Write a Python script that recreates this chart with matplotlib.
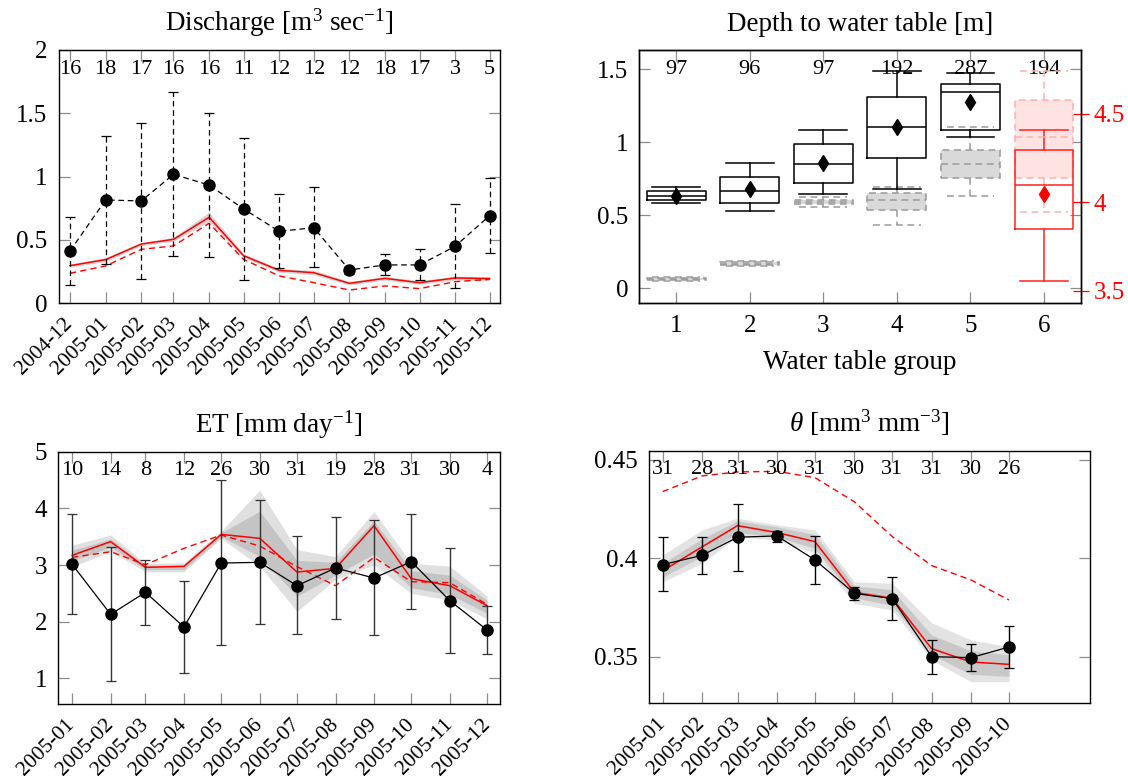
import numpy as np
import matplotlib
matplotlib.use('Agg')
import matplotlib.pyplot as plt
import matplotlib.dates as mdates
from matplotlib.transforms import blended_transform_factory

plt.rcParams['font.family'] = 'serif'
plt.rcParams['font.serif'] = ['Liberation Serif', 'DejaVu Serif']
plt.rcParams['mathtext.fontset'] = 'custom'
plt.rcParams['mathtext.rm'] = 'Liberation Serif'
plt.rcParams['mathtext.it'] = 'Liberation Serif:italic'

# ---------------- Discharge ----------------
q_months = ['2004-12', '2005-01', '2005-02', '2005-03', '2005-04', '2005-05', '2005-06',
            '2005-07', '2005-08', '2005-09', '2005-10', '2005-11', '2005-12']
q_n = [16, 18, 17, 16, 16, 11, 12, 12, 12, 18, 17, 3, 5]
q_obs = [0.413, 0.816, 0.808, 1.018, 0.934, 0.745, 0.568, 0.597, 0.263, 0.303, 0.303, 0.450, 0.692]
q_obs_lo = [0.142, 0.308, 0.189, 0.371, 0.366, 0.184, 0.276, 0.284, 0.235, 0.221, 0.184, 0.121, 0.395]
q_obs_hi = [0.682, 1.321, 1.426, 1.671, 1.505, 1.305, 0.861, 0.916, 0.290, 0.387, 0.432, 0.784, 0.987]
q_sim = [0.297, 0.345, 0.468, 0.505, 0.679, 0.376, 0.260, 0.242, 0.158, 0.197, 0.163, 0.200, 0.195]
q_sim_dash = [0.237, 0.295, 0.426, 0.453, 0.632, 0.347, 0.216, 0.163, 0.105, 0.137, 0.116, 0.171, 0.189]
q_band_lo = [0.285, 0.330, 0.455, 0.490, 0.645, 0.360, 0.245, 0.225, 0.145, 0.183, 0.150, 0.185, 0.180]
q_band_hi = [0.310, 0.360, 0.480, 0.520, 0.720, 0.390, 0.275, 0.260, 0.172, 0.212, 0.177, 0.215, 0.210]

# ---------------- ET ----------------
et_months = ['2005-01', '2005-02', '2005-03', '2005-04', '2005-05', '2005-06',
             '2005-07', '2005-08', '2005-09', '2005-10', '2005-11', '2005-12']
et_n = [10, 14, 8, 12, 26, 30, 31, 19, 28, 31, 30, 4]
et_obs = [3.012, 2.129, 2.518, 1.906, 3.035, 3.047, 2.635, 2.947, 2.771, 3.059, 2.371, 1.853]
et_obs_lo = [2.141, 0.947, 1.947, 1.094, 1.594, 1.959, 1.782, 2.047, 1.759, 2.218, 1.441, 1.435]
et_obs_hi = [3.894, 3.312, 3.094, 2.724, 4.494, 4.147, 3.506, 3.853, 3.788, 3.906, 3.300, 2.271]
et_sim = [3.171, 3.412, 2.959, 2.976, 3.541, 3.471, 2.876, 2.941, 3.694, 2.759, 2.635, 2.282]
et_sim_dash = [3.135, 3.235, 3.006, 3.294, 3.529, 3.335, 2.971, 2.635, 3.135, 2.706, 2.688, 2.306]
et_band_lo = [2.97, 3.24, 2.88, 2.88, 3.47, 2.98, 2.18, 2.75, 3.00, 2.50, 2.38, 2.05]
et_band_hi = [3.35, 3.53, 3.03, 3.04, 3.60, 4.32, 3.27, 3.15, 3.94, 3.03, 2.98, 2.45]
et_core_lo = [3.07, 3.32, 2.92, 2.92, 3.50, 3.15, 2.45, 2.82, 3.20, 2.60, 2.48, 2.15]
et_core_hi = [3.26, 3.46, 3.00, 3.00, 3.57, 3.95, 3.08, 3.05, 3.78, 2.90, 2.82, 2.38]

# ---------------- theta ----------------
th_months = ['2005-01', '2005-02', '2005-03', '2005-04', '2005-05',
             '2005-06', '2005-07', '2005-08', '2005-09', '2005-10']
th_n = [31, 28, 31, 30, 31, 30, 31, 31, 30, 26]
th_obs = [0.3968, 0.4015, 0.4107, 0.4114, 0.3992, 0.3822, 0.3795, 0.3500, 0.3495, 0.3549]
th_obs_lo = [0.3834, 0.3922, 0.3934, 0.4083, 0.3871, 0.3788, 0.3685, 0.3412, 0.3425, 0.3442]
th_obs_hi = [0.4107, 0.4110, 0.4278, 0.4141, 0.4115, 0.3856, 0.3907, 0.3586, 0.3563, 0.3658]
th_sim = [0.3937, 0.4058, 0.4166, 0.4131, 0.4085, 0.3827, 0.3797, 0.3541, 0.3473, 0.3461]
th_sim_dash = [0.4339, 0.4419, 0.4439, 0.4442, 0.4410, 0.4288, 0.4110, 0.3963, 0.3890, 0.3788]
th_band_lo = [0.3881, 0.3975, 0.4110, 0.4093, 0.4026, 0.3771, 0.3737, 0.3483, 0.3373, 0.3373]
th_band_hi = [0.4017, 0.4144, 0.4204, 0.4170, 0.4144, 0.3881, 0.3873, 0.3672, 0.3585, 0.3551]
th_core_lo = [0.3905, 0.4010, 0.4130, 0.4110, 0.4050, 0.3800, 0.3760, 0.3510, 0.3410, 0.3400]
th_core_hi = [0.3975, 0.4100, 0.4190, 0.4160, 0.4120, 0.3860, 0.3840, 0.3610, 0.3530, 0.3510]

# ---------------- depth to water table ----------------
wt_groups = [1, 2, 3, 4, 5, 6]
wt_n = [97, 96, 97, 192, 287, 194]
# observed boxes (group 6 on the right axis)
obs_whislo = [0.581, 0.527, 0.643, 0.679, 1.037, 3.553]
obs_q1 = [0.602, 0.584, 0.720, 0.891, 1.081, 3.849]
obs_med = [0.631, 0.668, 0.853, 1.101, 1.340, 4.100]
obs_q3 = [0.663, 0.761, 0.989, 1.311, 1.400, 4.298]
obs_whishi = [0.691, 0.855, 1.085, 1.489, 1.470, 4.408]
obs_mean = [0.631, 0.679, 0.857, 1.101, 1.277, 4.049]
# simulated boxes
sim_whislo = [0.053, 0.155, 0.554, 0.431, 0.631, 3.945]
sim_q1 = [0.060, 0.163, 0.574, 0.538, 0.757, 4.140]
sim_med = [0.066, 0.170, 0.588, 0.602, 0.850, 4.370]
sim_q3 = [0.072, 0.178, 0.604, 0.652, 0.948, 4.577]
sim_whishi = [0.078, 0.185, 0.622, 0.695, 1.101, 4.745]

W, H = 1128, 784
fig = plt.figure(figsize=(W / 100, H / 100), dpi=100)

GREY = '#8c8c8c'
DASH = (0, (4.5, 3))
TICK_FS = 18
TITLE_FS = 19.5
COUNT_FS = 16
DATE_FS = 15.5


def axes_px(left, top, right, bottom):
    return fig.add_axes([left / W, 1 - bottom / H, (right - left) / W, (bottom - top) / H])


def style(ax):
    ax.tick_params(direction='in', length=8, width=0.9, color=GREY, top=True, right=True,
                   labelsize=TICK_FS, pad=8)
    for s in ax.spines.values():
        s.set_linewidth(1.0)


def month_nums(months):
    return mdates.date2num(np.array(months, dtype='datetime64[M]').astype('datetime64[D]'))


def date_axis(ax, months, x, counts):
    ax.set_xticks(x)
    ax.set_xticklabels(months, rotation=45, ha='right', va='center', rotation_mode='anchor', fontsize=DATE_FS)
    ax.tick_params(axis='x', pad=13)
    tr = blended_transform_factory(ax.transData, ax.transAxes)
    for xi, n in zip(x, counts):
        ax.text(xi, 0.924, str(n), transform=tr, ha='center', va='center', fontsize=COUNT_FS)


# ---- Discharge
ax = axes_px(58.5, 50, 500, 303.3)
x = month_nums(q_months)
ax.fill_between(x, q_band_lo, q_band_hi, color='#d4d4d4', lw=0, zorder=1)
ax.plot(x, q_sim, color='red', lw=1.1, zorder=2)
ax.plot(x, q_sim_dash, color='red', lw=1.0, ls=DASH, zorder=2)
obs = np.array(q_obs)
eb = ax.errorbar(x, obs, yerr=[obs - np.array(q_obs_lo), np.array(q_obs_hi) - obs], fmt='o', ls=DASH,
                 color='k', ms=8, lw=0.9, elinewidth=0.9, capsize=3.5, capthick=0.9, zorder=3)
eb[2][0].set_linestyle(DASH)
ax.set_xlim(x[0] - 10, x[-1] + 9)
ax.set_ylim(0, 2)
ax.set_yticks([0, 0.5, 1, 1.5, 2])
ax.set_yticklabels(['0', '0.5', '1', '1.5', '2'])
style(ax)
date_axis(ax, q_months, x, q_n)
ax.set_title('Discharge [m$^3$ sec$^{-1}$]', fontsize=TITLE_FS, pad=14)

# ---- Depth to water table
ax = axes_px(639.4, 50, 1080.8, 302.7)
ax2 = ax.twinx()
pos = wt_groups[:5]
sim_stats = [dict(whislo=sim_whislo[i], q1=sim_q1[i], med=sim_med[i], q3=sim_q3[i], whishi=sim_whishi[i])
             for i in range(6)]
obs_stats = [dict(whislo=obs_whislo[i], q1=obs_q1[i], med=obs_med[i], q3=obs_q3[i], whishi=obs_whishi[i],
                  mean=obs_mean[i]) for i in range(6)]
gline = dict(color='#9a9a9a', linestyle=DASH, linewidth=1.1)
ax.bxp(sim_stats[:5], positions=pos, widths=0.8, capwidths=0.65, patch_artist=True, showfliers=False,
       boxprops=dict(facecolor='#d9d9d9', edgecolor='#9a9a9a', linestyle=DASH, linewidth=1.1),
       whiskerprops=gline, capprops=gline, medianprops=gline, manage_ticks=False)
kline = dict(color='k', linewidth=1.1)
ax.bxp(obs_stats[:5], positions=pos, widths=0.8, capwidths=0.65, showmeans=True, showfliers=False,
       boxprops=kline, whiskerprops=kline, capprops=kline, medianprops=kline,
       meanprops=dict(marker='d', markerfacecolor='k', markeredgecolor='k', markersize=8),
       manage_ticks=False)
pline = dict(color='#ffb0b0', linestyle=DASH, linewidth=1.1)
ax2.bxp(sim_stats[5:], positions=[6], widths=0.8, capwidths=0.65, patch_artist=True, showfliers=False,
        boxprops=dict(facecolor='#ffe3e3', edgecolor='#ffb0b0', linestyle=DASH, linewidth=1.1),
        whiskerprops=pline, capprops=pline, medianprops=pline, manage_ticks=False)
rline = dict(color='#ff2020', linewidth=1.1)
ax2.bxp(obs_stats[5:], positions=[6], widths=0.8, capwidths=0.65, showmeans=True, showfliers=False,
        boxprops=rline, whiskerprops=rline, capprops=rline, medianprops=rline,
        meanprops=dict(marker='d', markerfacecolor='red', markeredgecolor='red', markersize=8),
        manage_ticks=False)
ax.set_xlim(0.5, 6.5)
ax.set_ylim(-0.098, 1.63)
ax.set_yticks([0, 0.5, 1, 1.5])
ax.set_yticklabels(['0', '0.5', '1', '1.5'])
ax.set_xticks(wt_groups)
ax.set_xticklabels([str(g) for g in wt_groups])
style(ax)
ax.tick_params(axis='x', pad=9)
ax2.set_ylim(3.432, 4.862)
ax2.set_yticks([3.5, 4, 4.5])
ax2.set_yticklabels(['3.5', '4', '4.5'])
ax2.tick_params(axis='y', direction='inout', length=12, width=0.9, colors='red', labelsize=TICK_FS, pad=3)
for s in ax2.spines.values():
    s.set_linewidth(1.0)
tr = blended_transform_factory(ax.transData, ax.transAxes)
for g, n in zip(wt_groups, wt_n):
    ax.text(g, 0.924, str(n), transform=tr, ha='center', va='center', fontsize=COUNT_FS, zorder=0)
ax.set_xlabel('Water table group', fontsize=TITLE_FS, labelpad=9)
ax.set_title('Depth to water table [m]', fontsize=TITLE_FS, pad=14)

# ---- ET
ax = axes_px(58.1, 451.7, 500, 704)
x = month_nums(et_months)
ax.fill_between(x, et_band_lo, et_band_hi, color='#e0e0e0', lw=0, zorder=1)
ax.fill_between(x, et_core_lo, et_core_hi, color='#c4c4c4', lw=0, zorder=1)
ax.plot(x, et_sim, color='red', lw=1.1, zorder=2)
ax.plot(x, et_sim_dash, color='red', lw=1.0, ls=DASH, zorder=2)
obs = np.array(et_obs)
ax.errorbar(x, obs, yerr=[obs - np.array(et_obs_lo), np.array(et_obs_hi) - obs], fmt='o-',
            color='k', ecolor='#333333', ms=8, lw=0.9, elinewidth=1.0, capsize=3.5, capthick=0.9, zorder=3)
ax.set_xlim(x[0] - 11.3, x[-1] + 10.4)
ax.set_ylim(0.547, 5)
ax.set_yticks([1, 2, 3, 4, 5])
ax.set_yticklabels(['1', '2', '3', '4', '5'])
style(ax)
date_axis(ax, et_months, x, et_n)
ax.set_title('ET [mm day$^{-1}$]', fontsize=TITLE_FS, pad=14)

# ---- theta
ax = axes_px(648.5, 450.7, 1090.2, 703.3)
x = month_nums(th_months)
ax.fill_between(x, th_band_lo, th_band_hi, color='#e3e3e3', lw=0, zorder=1)
ax.fill_between(x, th_core_lo, th_core_hi, color='#c8c8c8', lw=0, zorder=1)
ax.plot(x, th_sim, color='red', lw=1.1, zorder=2)
ax.plot(x, th_sim_dash, color='red', lw=1.0, ls=DASH, zorder=2)
obs = np.array(th_obs)
ax.errorbar(x, obs, yerr=[obs - np.array(th_obs_lo), np.array(th_obs_hi) - obs], fmt='o-',
            color='k', ms=8, lw=0.9, elinewidth=1.0, capsize=3.5, capthick=0.9, zorder=3)
ax.set_xlim(x[0] - 11.2, x[-1] + 64)
ax.set_ylim(0.3263, 0.4547)
ax.set_yticks([0.35, 0.4, 0.45])
ax.set_yticklabels(['0.35', '0.4', '0.45'])
style(ax)
date_axis(ax, th_months, x, th_n)
ax.set_title(r'$\theta$ [mm$^3$ mm$^{-3}$]', fontsize=TITLE_FS, pad=14)

fig.savefig('out.png', dpi=100)
